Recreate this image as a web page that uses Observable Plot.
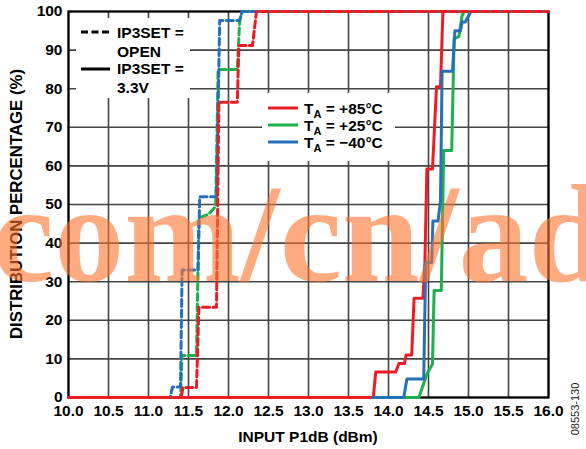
<!DOCTYPE html>
<html><head><meta charset="utf-8">
<script src="https://cdn.jsdelivr.net/npm/d3@7"></script>
<script src="https://cdn.jsdelivr.net/npm/@observablehq/plot@0.6"></script>
<style>
html,body{margin:0;padding:0;background:#fff;}
#chart{position:relative;width:586px;height:449px;}
</style></head><body><div id="chart"></div>
<script>
// ---- tick values ----
const xTicks = [10, 10.5, 11, 11.5, 12, 12.5, 13, 13.5, 14, 14.5, 15, 15.5, 16];
const yTicks = [0, 10, 20, 30, 40, 50, 60, 70, 80, 90, 100];

// ---- IP3SET = OPEN (dashed) ----
const openM40x = [11.2, 11.27, 11.3, 11.4, 11.42, 11.57, 11.62, 11.64, 11.85, 11.89, 12.14, 12.17, 16];
const openM40y = [0, 0, 2.7, 2.7, 33, 33, 33, 52, 52, 97.7, 97.7, 100, 100];
const openP25x = [11.35, 11.4, 11.42, 11.6, 11.63, 11.75, 11.84, 11.87, 12.11, 12.14, 12.17, 16];
const openP25y = [0, 0, 10.9, 10.9, 46.5, 47.5, 49.5, 85, 85, 97.7, 100, 100];
const openP85x = [10, 11.41, 11.43, 11.6, 11.63, 11.85, 11.88, 12.11, 12.13, 12.3, 12.35, 16];
const openP85y = [0, 0, 2.6, 2.6, 23.4, 23.4, 76.5, 76.5, 91.2, 91.2, 100, 100];

// ---- IP3SET = 3.3V (solid) ----
const v33M40x = [13.8, 14.19, 14.23, 14.44, 14.465, 14.54, 14.555, 14.62, 14.65, 14.67, 14.8, 14.83, 14.9, 14.92, 14.96, 15.03, 16];
const v33M40y = [0, 0, 4.8, 4.8, 35, 35, 45.7, 45.7, 51, 84.5, 84.5, 95, 95, 97.3, 97.3, 100, 100];
const v33P25x = [14.2, 14.38, 14.48, 14.55, 14.57, 14.66, 14.69, 14.79, 14.82, 14.88, 14.92, 14.95, 16];
const v33P25y = [0, 0, 6.1, 8.7, 27.7, 27.7, 64, 64, 93, 93.5, 99, 100, 100];
const v33P85x = [10, 13.81, 13.84, 14.09, 14.13, 14.2, 14.22, 14.29, 14.32, 14.43, 14.455, 14.48, 14.55, 14.6, 14.65, 14.68, 16];
const v33P85y = [0, 0, 6.6, 6.6, 8.8, 8.8, 11, 11, 25.7, 25.7, 35, 59.2, 59.2, 80.5, 80.5, 100, 100];

const colors = {p85: "#ED1C24", p25: "#1DB04C", m40: "#2670BA"};
const legendTemps = ["+85°C", "+25°C", "\u221240°C"];
const legendModes = [["IP3SET =", "OPEN"], ["IP3SET =", "3.3V"]];

const rows = (xs, ys) => xs.map((x, i) => ({x, y: ys[i]}));
const dash = "7,3.5";
const lw = 3;

const plot = Plot.plot({
  width: 586, height: 449,
  marginLeft: 68, marginRight: 38, marginTop: 11, marginBottom: 52,
  style: {fontFamily: "'Liberation Sans', Arial, sans-serif", fontSize: "15.5px", fontWeight: "bold", color: "#000", background: "#fff"},
  x: {domain: [10, 16]},
  y: {domain: [0, 100]},
  marks: [
    Plot.gridX(xTicks, {stroke: "#444", strokeOpacity: 1, strokeWidth: 1.6}),
    Plot.gridY(yTicks, {stroke: "#444", strokeOpacity: 1, strokeWidth: 1.6}),
    Plot.frame({stroke: "#000", strokeWidth: 2.2}),
    Plot.axisX(xTicks, {tickSize: 0, tickPadding: 7, tickFormat: d => d.toFixed(1), label: null}),
    Plot.axisY(yTicks, {tickSize: 0, tickPadding: 6, label: null}),
    Plot.line(rows(v33P85x, v33P85y), {x: "x", y: "y", stroke: colors.p85, strokeWidth: lw}),
    Plot.line(rows(v33P25x, v33P25y), {x: "x", y: "y", stroke: colors.p25, strokeWidth: lw}),
    Plot.line(rows(v33M40x, v33M40y), {x: "x", y: "y", stroke: colors.m40, strokeWidth: lw}),
    Plot.line(rows(openP25x, openP25y), {x: "x", y: "y", stroke: colors.p25, strokeWidth: lw, strokeDasharray: dash}),
    Plot.line(rows(openM40x, openM40y), {x: "x", y: "y", stroke: colors.m40, strokeWidth: lw, strokeDasharray: dash}),
    Plot.line(rows(openP85x, openP85y), {x: "x", y: "y", stroke: colors.p85, strokeWidth: lw, strokeDasharray: dash})
  ]
});
document.getElementById("chart").appendChild(plot);

const svg = d3.select(plot);
const font = "'Liberation Sans', Arial, sans-serif";
const txt = (sel) => sel.attr("font-family", font).attr("font-weight", "bold").attr("fill", "#000");

// axis titles
txt(svg.append("text")).attr("transform", "translate(22,204) rotate(-90)")
  .attr("text-anchor", "middle").attr("font-size", 16.8).text("DISTRIBUTION PERCENTAGE (%)");
txt(svg.append("text")).attr("x", 308).attr("y", 442)
  .attr("text-anchor", "middle").attr("font-size", 15.5).text("INPUT P1dB (dBm)");
svg.append("text").attr("transform", "translate(579,409) rotate(-90)")
  .attr("text-anchor", "middle").attr("font-family", font).attr("font-weight", "normal")
  .attr("font-size", 11).attr("fill", "#222").text("08553-130");

// legend 1 (line style)
const lg1 = svg.append("g");
lg1.append("rect").attr("x", 76).attr("y", 18).attr("width", 114).attr("height", 80).attr("fill", "#fff");
[[32, dash, 38, 57], [69, null, 74, 93]].forEach((d, i) => {
  const l = lg1.append("line").attr("x1", 81).attr("x2", 110).attr("y1", d[0]).attr("y2", d[0])
    .attr("stroke", "#000").attr("stroke-width", 3);
  if (d[1]) l.attr("stroke-dasharray", d[1]);
  txt(lg1.append("text")).attr("x", 117).attr("y", d[2]).attr("text-anchor", "start")
    .attr("font-size", 15.5).text(legendModes[i][0]);
  txt(lg1.append("text")).attr("x", 117).attr("y", d[3]).attr("text-anchor", "start")
    .attr("font-size", 15.5).text(legendModes[i][1]);
});

// legend 2 (temperature)
const lg2 = svg.append("g");
lg2.append("rect").attr("x", 262).attr("y", 93).attr("width", 133).attr("height", 68).attr("fill", "#fff");
[colors.p85, colors.p25, colors.m40].forEach((c, i) => {
  const y = 108 + i * 17;
  lg2.append("line").attr("x1", 268).attr("x2", 298).attr("y1", y).attr("y2", y)
    .attr("stroke", c).attr("stroke-width", 3);
  const t = txt(lg2.append("text")).attr("x", 304).attr("y", y + 6).attr("text-anchor", "start")
    .attr("font-size", 15.5);
  t.append("tspan").text("T");
  t.append("tspan").attr("font-size", 11).attr("dy", 4).text("A");
  t.append("tspan").attr("dy", -4).text(" = " + legendTemps[i]);
});

// watermark
svg.append("text").attr("x", -8).attr("y", 281).attr("text-anchor", "start")
  .attr("font-family", "'Liberation Serif', 'Times New Roman', serif").attr("font-weight", "bold")
  .attr("font-size", 140)
  .attr("fill", "rgb(255,115,45)").attr("fill-opacity", 0.6)
  .text("com/cn/ad");
</script></body></html>
